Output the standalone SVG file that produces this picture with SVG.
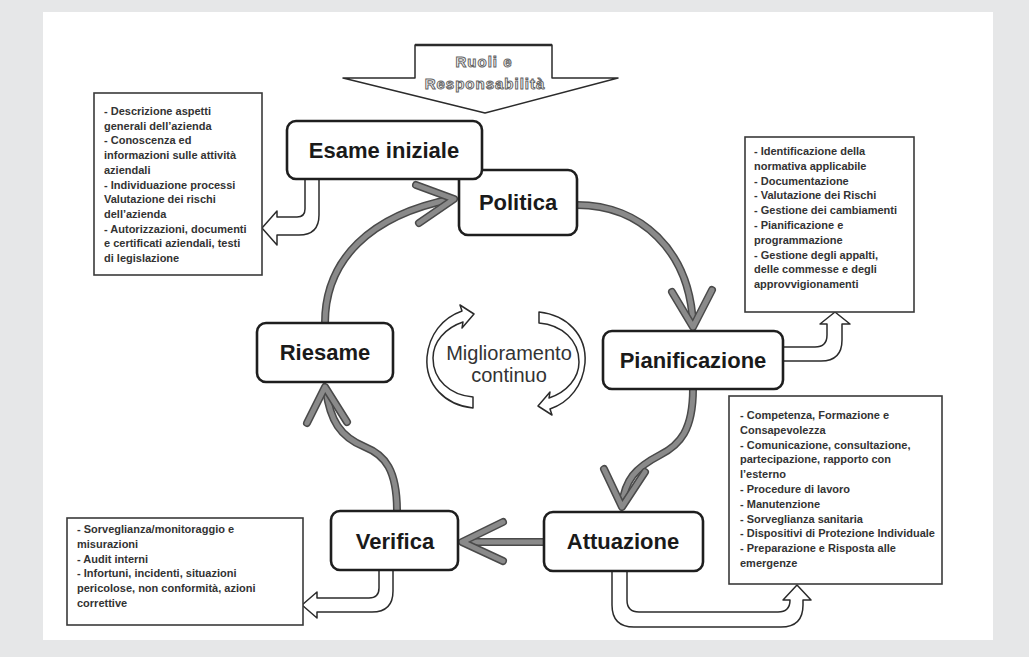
<svg xmlns="http://www.w3.org/2000/svg" xmlns:xlink="http://www.w3.org/1999/xlink" width="1029" height="657" viewBox="0 0 1029 657">
<style>
.node rect{fill:#fff;stroke:#1e1e1e;stroke-width:2.6}
.node text{font-family:"Liberation Sans",Arial,sans-serif;font-weight:bold;font-size:22px;fill:#1a1a1a;text-anchor:middle}
.box rect{fill:#fff;stroke:#3a3a3a;stroke-width:1.6}
.box text{font-family:"Liberation Sans",Arial,sans-serif;font-weight:bold;font-size:11px;fill:#333}
.hollow{fill:#fff;stroke:#2b2b2b;stroke-width:1.5;stroke-linejoin:round}
.edge{fill:none;stroke:#4a4a4a;stroke-width:8;stroke-linecap:round;stroke-linejoin:round}
.core{fill:none;stroke:#8a8a8a;stroke-width:5;stroke-linecap:round;stroke-linejoin:round}
.outline{font-family:"Liberation Sans",Arial,sans-serif;font-weight:bold;font-size:15px;letter-spacing:1px;fill:#fff;stroke:#666;stroke-width:1;text-anchor:middle}
.center{font-family:"Liberation Sans",Arial,sans-serif;font-size:20px;fill:#333;text-anchor:middle}
</style>
<defs>
<path id="c1" d="M577,205 C640,205 690,250 693,325"/>
<path id="h1" d="M672,292 L693,327 L712,290"/>
<path id="c2" d="M693,389 C693,430 680,445 660,455 C635,468 625,480 622,505"/>
<path id="h2" d="M604,469 L622,507 L645,472"/>
<path id="c3" d="M544,542 L465,542"/>
<path id="h3" d="M503,522 L462,542 L503,561"/>
<path id="c4" d="M397,511 C397,470 385,455 365,447 C340,437 330,420 326,390"/>
<path id="h4" d="M307,423 L325,387 L347,422"/>
<path id="c5" d="M325,323 C325,260 370,215 452,199"/>
<path id="h5" d="M416,185 L454,199 L419,223"/>
<path id="cyc" d="M473,408 C445,405 425,385 427,357 C429,335 442,318 462,311 L460,305 L474,314 L462,328 L463,322 C445,328 433,342 433,358 C433,380 450,395 473,397 Z"/>
</defs>
<rect x="0" y="0" width="1029" height="657" fill="#e6e7e8"/>
<rect x="43" y="12" width="950" height="628" fill="#fff"/>

<g id="ruoli">
<path class="hollow" d="M415,45 L552,45 L552,78 L618,78 L485,113 L343,78 L415,78 Z"/>
<line x1="415" y1="45" x2="552" y2="45" stroke="#2b2b2b" stroke-width="2.5"/>
<text class="outline" x="484" y="67">Ruoli e</text>
<text class="outline" x="485" y="89">Responsabilità</text>
</g>

<g id="connectors">
<use href="#c1" class="edge"/><use href="#c1" class="core"/>
<use href="#h1" class="edge"/><use href="#h1" class="core"/>
<use href="#c2" class="edge"/><use href="#c2" class="core"/>
<use href="#h2" class="edge"/><use href="#h2" class="core"/>
<use href="#c3" class="edge"/><use href="#c3" class="core"/>
<use href="#h3" class="edge"/><use href="#h3" class="core"/>
<use href="#c4" class="edge"/><use href="#c4" class="core"/>
<use href="#h4" class="edge"/><use href="#h4" class="core"/>
<use href="#c5" class="edge"/><use href="#c5" class="core"/>
<use href="#h5" class="edge"/><use href="#h5" class="core"/>
<path class="hollow" d="M305,179 L305,209 Q305,217 297,217 L277,217 L277,211 L262,228 L277,245 L277,235 L299,235 Q319,235 319,215 L319,179"/>
<path class="hollow" d="M783,347 L815,347 Q827,347 827,335 L827,324 L820,324 L835,312 L850,324 L842,324 L842,340 Q842,361 821,361 L783,361"/>
<path class="hollow" d="M379,570 L379,588 Q379,598 369,598 L317,598 L317,592 L302,605 L317,618 L317,612 L372,612 Q393,612 393,591 L393,570"/>
<path class="hollow" d="M627,571 L627,600 Q627,612 639,612 L778,612 Q790,612 790,600 L783,600 L797,585 L811,600 L803,600 L803,605 Q803,627 781,627 L634,627 Q612,627 612,605 L612,571"/>
</g>

<g id="miglioramento">
<use href="#cyc" class="hollow"/>
<use href="#cyc" class="hollow" transform="rotate(180 506 360)"/>
<text class="center" x="509" y="360">Miglioramento</text>
<text class="center" x="509" y="382">continuo</text>
</g>

<g id="politica" class="node"><rect x="459" y="170" width="118" height="65" rx="9"/><text x="518" y="210">Politica</text></g>
<g id="esame" class="node"><rect x="287" y="121" width="195" height="58" rx="9"/><text x="384" y="158">Esame iniziale</text></g>
<g id="riesame" class="node"><rect x="257" y="323" width="136" height="59" rx="9"/><text x="325" y="360">Riesame</text></g>
<g id="pianificazione" class="node"><rect x="603" y="331" width="180" height="58" rx="9"/><text x="693" y="368">Pianificazione</text></g>
<g id="verifica" class="node"><rect x="331" y="511" width="127" height="59" rx="9"/><text x="395" y="549">Verifica</text></g>
<g id="attuazione" class="node"><rect x="544" y="512" width="159" height="59" rx="9"/><text x="623" y="549">Attuazione</text></g>

<g id="box-esame" class="box"><rect x="94" y="93" width="168" height="182"/>
<text x="104" y="115">-  Descrizione aspetti</text>
<text x="104" y="129.7">generali dell’azienda</text>
<text x="104" y="144.4">- Conoscenza ed</text>
<text x="104" y="159.1">informazioni sulle attività</text>
<text x="104" y="173.8">aziendali</text>
<text x="104" y="188.5">- Individuazione  processi</text>
<text x="104" y="203.2">Valutazione dei rischi</text>
<text x="104" y="217.9">dell’azienda</text>
<text x="104" y="232.6">- Autorizzazioni, documenti</text>
<text x="104" y="247.3">e certificati aziendali, testi</text>
<text x="104" y="262">di legislazione</text>
</g>

<g id="box-pianificazione" class="box"><rect x="745" y="137" width="169" height="175"/>
<text x="754" y="155">- Identificazione della</text>
<text x="754" y="169.8">normativa applicabile</text>
<text x="754" y="184.6">- Documentazione</text>
<text x="754" y="199.4">- Valutazione dei Rischi</text>
<text x="754" y="214.2">- Gestione dei cambiamenti</text>
<text x="754" y="229">- Pianificazione e</text>
<text x="754" y="243.8">programmazione</text>
<text x="754" y="258.6">- Gestione degli appalti,</text>
<text x="754" y="273.4">delle commesse e degli</text>
<text x="754" y="288.2">approvvigionamenti</text>
</g>

<g id="box-attuazione" class="box"><rect x="729" y="396" width="213" height="188"/>
<text x="740" y="419">- Competenza, Formazione e</text>
<text x="740" y="433.8">Consapevolezza</text>
<text x="740" y="448.6">- Comunicazione, consultazione,</text>
<text x="740" y="463.4">partecipazione, rapporto con</text>
<text x="740" y="478.2">l’esterno</text>
<text x="740" y="493">- Procedure di lavoro</text>
<text x="740" y="507.8">- Manutenzione</text>
<text x="740" y="522.6">- Sorveglianza sanitaria</text>
<text x="740" y="537.4">- Dispositivi di Protezione Individuale</text>
<text x="740" y="552.2">- Preparazione e Risposta alle</text>
<text x="740" y="567">emergenze</text>
</g>

<g id="box-verifica" class="box"><rect x="67" y="518" width="236" height="107"/>
<text x="77" y="533">- Sorveglianza/monitoraggio e</text>
<text x="77" y="547.8">misurazioni</text>
<text x="77" y="562.6">- Audit interni</text>
<text x="77" y="577.4">- Infortuni, incidenti, situazioni</text>
<text x="77" y="592.2">pericolose, non conformità, azioni</text>
<text x="77" y="607">correttive</text>
</g>
</svg>
